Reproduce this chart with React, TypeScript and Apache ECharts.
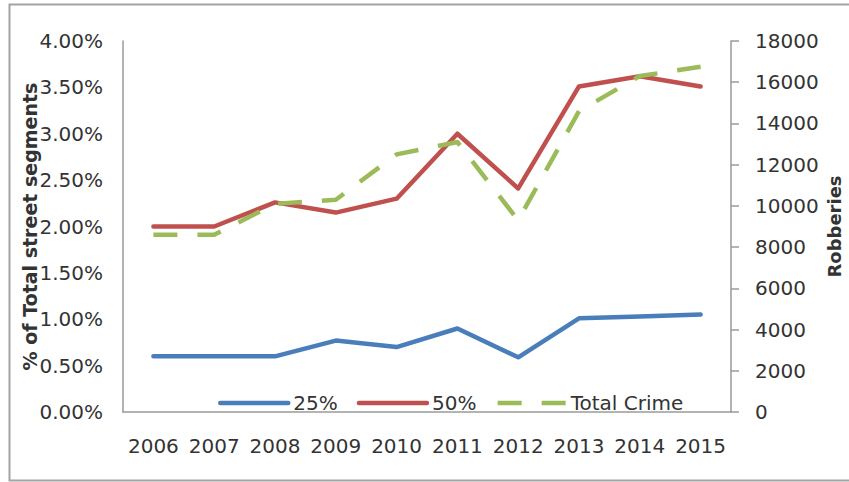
import React, { useEffect, useRef } from "react";
import * as echarts from "echarts";

const years = ["2006", "2007", "2008", "2009", "2010", "2011", "2012", "2013", "2014", "2015"];
const pct25 = [0.6, 0.6, 0.6, 0.77, 0.7, 0.9, 0.59, 1.01, 1.03, 1.05];
const pct50 = [2.0, 2.0, 2.26, 2.15, 2.3, 3.0, 2.41, 3.51, 3.62, 3.51];
const totalCrime = [8600, 8600, 10100, 10300, 12500, 13100, 9300, 14600, 16300, 16750];

const FONT = "DejaVu Sans";
const TXT = "#333333";
const AXIS = "#9a9a9a";
const BLUE = "#4a7ebb";
const RED = "#c0504d";
const GREEN = "#9bbb59";
const DASH = [24, 20];

export default function App() {
  const ref = useRef<HTMLDivElement>(null);
  useEffect(() => {
    if (!ref.current) return;
    const chart = echarts.init(ref.current, null, { renderer: "svg" });
    chart.setOption({
      animation: false,
      backgroundColor: "#ffffff",
      textStyle: { fontFamily: FONT },
      graphic: [
        {
          type: "rect",
          shape: { x: 9.5, y: 4.5, width: 900, height: 476 },
          style: { fill: "none", stroke: "#a3a3a3", lineWidth: 2 },
          silent: true,
        },
      ],
      grid: { left: 123, right: 118, top: 41, bottom: 70, outerBoundsMode: "none", containLabel: false },
      legend: {
        left: 213,
        top: 388,
        itemWidth: 68,
        itemHeight: 14,
        itemGap: 19,
        itemStyle: { opacity: 0 },
        textStyle: { fontFamily: FONT, fontSize: 20, color: TXT },
        data: [
          { name: "25%", lineStyle: { color: BLUE, width: 4.5, cap: "round" } },
          { name: "50%", lineStyle: { color: RED, width: 4.5, cap: "round" } },
          { name: "Total Crime", lineStyle: { color: GREEN, width: 4.5, type: DASH, cap: "butt" } },
        ],
      },
      xAxis: {
        type: "category",
        data: years,
        boundaryGap: true,
        axisLine: { show: true, lineStyle: { color: AXIS, width: 1.5 } },
        axisTick: { show: false },
        axisLabel: { fontFamily: FONT, fontSize: 20, color: TXT, margin: 24, interval: 0 },
      },
      yAxis: [
        {
          type: "value",
          min: 0,
          max: 4,
          interval: 0.5,
          name: "% of Total street segments",
          nameLocation: "middle",
          nameGap: 84,
          nameMoveOverlap: false,
          nameTextStyle: { fontFamily: FONT, fontSize: 19, fontWeight: "bold", color: TXT },
          axisLine: { show: true, lineStyle: { color: AXIS, width: 1.5 } },
          axisTick: { show: false },
          splitLine: { show: false },
          axisLabel: {
            fontFamily: FONT,
            fontSize: 20,
            color: TXT,
            margin: 20,
            formatter: (v: number) => v.toFixed(2) + "%",
          },
        },
        {
          type: "value",
          min: 0,
          max: 18000,
          interval: 2000,
          position: "right",
          name: "Robberies",
          nameLocation: "middle",
          nameGap: 94,
          nameMoveOverlap: false,
          nameTextStyle: { fontFamily: FONT, fontSize: 18, fontWeight: "bold", color: TXT },
          axisLine: { show: true, lineStyle: { color: AXIS, width: 1.5 } },
          axisTick: { show: true, length: 8, lineStyle: { color: AXIS, width: 1.5 } },
          splitLine: { show: false },
          axisLabel: {
            fontFamily: FONT,
            fontSize: 20,
            color: TXT,
            margin: 24,
            formatter: (v: number) => String(v),
          },
        },
      ],
      series: [
        {
          name: "25%",
          type: "line",
          data: pct25,
          yAxisIndex: 0,
          symbol: "none",
          color: BLUE,
          lineStyle: { color: BLUE, width: 4.5, cap: "round", join: "round" },
        },
        {
          name: "50%",
          type: "line",
          data: pct50,
          yAxisIndex: 0,
          symbol: "none",
          color: RED,
          lineStyle: { color: RED, width: 4.5, cap: "round", join: "round" },
        },
        {
          name: "Total Crime",
          type: "line",
          data: totalCrime,
          yAxisIndex: 1,
          symbol: "none",
          color: GREEN,
          lineStyle: { color: GREEN, width: 4.5, type: DASH, cap: "butt", join: "round" },
        },
      ],
    });
    return () => chart.dispose();
  }, []);
  return (
    <div
      ref={ref}
      style={{ position: "fixed", left: 0, top: 0, width: 849, height: 482 }}
    />
  );
}
